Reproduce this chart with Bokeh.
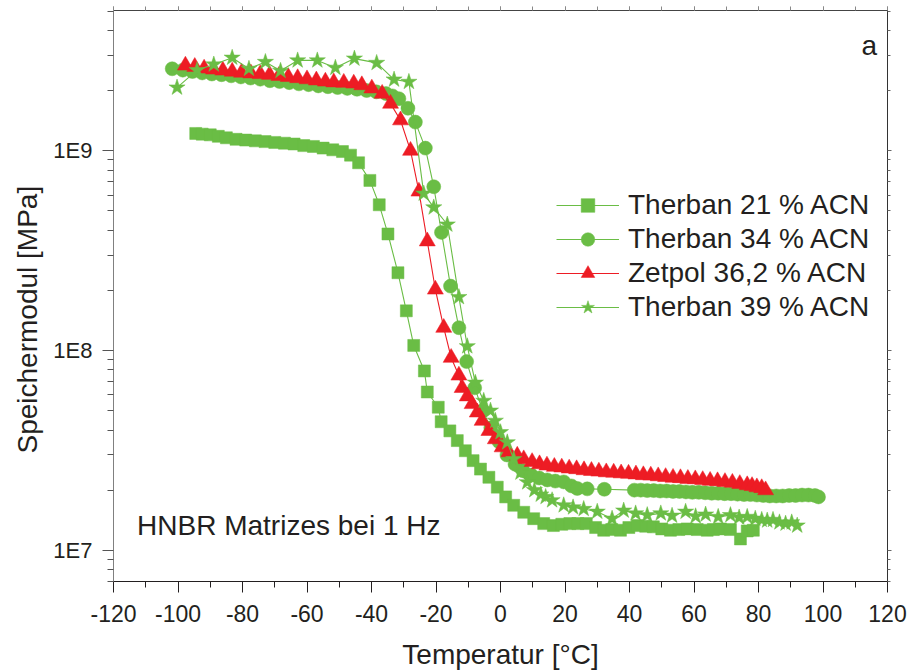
from bokeh.plotting import figure
from bokeh.models import (Range1d, FixedTicker, LinearAxis, LogAxis, CustomJSTickFormatter,
                          Label, Legend, LegendItem, Title)
from bokeh.embed import file_html
from bokeh.resources import INLINE

# ---------------- data ----------------
T21_T = [-94.5, -92.5, -90.0, -87.5, -85.0, -82.0, -79.0, -76.0, -73.0, -70.0, -67.0, -64.0, -61.0,
         -58.0, -55.0, -52.0, -49.0, -46.5, -44.0,
         -40.5, -37.6, -34.9, -31.8, -29.2, -26.9, -23.6, -22.7, -19.3, -18.4, -15.7, -13.4, -10.9,
         -8.5, -6.2, -3.6, -1.0,
         1.6, 4.1, 7.2, 10.3, 13.4, 16.4, 19.0, 21.5, 24.0, 26.6, 29.5, 32.0, 34.5, 37.2, 39.8, 42.4,
         45.0, 47.4, 50.0, 52.7, 55.3, 57.9, 61.0, 64.1, 66.0, 68.2, 71.3, 74.4, 76.5, 78.4]
T21_E = [1.22e9, 1.21e9, 1.20e9, 1.18e9, 1.16e9, 1.14e9, 1.13e9, 1.12e9, 1.11e9, 1.10e9, 1.09e9, 1.08e9,
         1.06e9, 1.05e9, 1.03e9, 1.01e9, 0.99e9, 0.95e9, 0.87e9,
         7.1e8, 5.36e8, 3.83e8, 2.45e8, 1.58e8, 1.06e8, 7.9e7, 6.2e7, 5.2e7, 4.4e7, 3.96e7, 3.54e7,
         3.15e7, 2.81e7, 2.55e7, 2.32e7, 2.07e7,
         1.85e7, 1.68e7, 1.55e7, 1.44e7, 1.36e7, 1.33e7, 1.35e7, 1.36e7, 1.36e7, 1.36e7, 1.30e7, 1.26e7,
         1.27e7, 1.26e7, 1.30e7, 1.33e7, 1.32e7, 1.31e7, 1.28e7, 1.26e7, 1.27e7, 1.28e7, 1.27e7, 1.26e7,
         1.27e7, 1.28e7, 1.27e7, 1.14e7, 1.25e7, 1.26e7]

T34_T = [-101.8, -98.5, -95.5, -92.5, -89.5, -86.5, -83.5, -80.5, -77.5, -74.5, -71.5, -68.5, -65.5,
         -62.5, -59.5, -56.5, -53.5, -50.5, -47.5, -44.5, -41.5, -38.5, -35.5, -33.5, -31.5,
         -28.7, -26.4, -23.3, -20.7, -18.3, -15.5, -12.9, -10.5, -8.0, -5.5, -3.0, -0.5, 2.0, 4.5, 7.0,
         9.5, 12.0, 14.5, 17.0, 19.6, 22.0, 23.8, 26.9, 32.2,
         41.5, 43.5, 45.5, 47.5, 49.5, 51.5, 53.5, 55.5, 57.5, 59.5, 61.5, 63.5, 65.5, 67.5, 69.5, 71.5,
         73.5, 75.5, 77.5, 79.5, 81.5, 83.5, 85.5, 87.5, 89.5, 91.5, 93.5, 95.5, 97.5, 98.6]
T34_E = [2.57e9, 2.53e9, 2.49e9, 2.45e9, 2.42e9, 2.40e9, 2.37e9, 2.34e9, 2.31e9, 2.28e9, 2.24e9, 2.22e9,
         2.19e9, 2.16e9, 2.14e9, 2.11e9, 2.09e9, 2.07e9, 2.05e9, 2.03e9, 2.00e9, 1.97e9, 1.93e9, 1.88e9,
         1.82e9,
         1.63e9, 1.39e9, 1.03e9, 6.6e8, 3.9e8, 2.1e8, 1.3e8, 8.8e7, 6.5e7, 5.0e7, 4.1e7, 3.5e7, 3.0e7,
         2.7e7, 2.5e7, 2.38e7, 2.3e7, 2.25e7, 2.22e7, 2.2e7, 2.1e7, 2.04e7, 2.03e7, 2.02e7,
         2.00e7, 2.00e7, 1.99e7, 1.99e7, 1.98e7, 1.98e7, 1.97e7, 1.97e7, 1.96e7, 1.95e7, 1.95e7, 1.94e7,
         1.93e7, 1.93e7, 1.92e7, 1.92e7, 1.91e7, 1.90e7, 1.90e7, 1.89e7, 1.88e7, 1.87e7, 1.87e7, 1.87e7,
         1.88e7, 1.88e7, 1.89e7, 1.89e7, 1.88e7, 1.85e7]

Z36_T = [-97.7, -94.8, -91.9, -89.0, -86.1, -83.2, -80.3, -77.4, -74.5, -71.6, -68.7, -65.8, -62.9,
         -60.0, -57.1, -54.3, -51.7, -48.6, -45.5, -43.0, -39.9, -36.7, -34.1,
         -31.0, -27.9, -25.3, -22.7, -20.2, -17.6, -15.3, -12.9, -11.9, -10.3, -8.8, -7.2, -5.7, -3.6,
         -1.6, 0.5, 2.6, 5.2, 7.2, 9.8,
         12.1, 14.4, 16.7, 19.0, 21.3, 23.6, 25.9, 28.2, 30.5, 32.8, 35.1, 37.4, 39.7, 42.0, 44.3, 46.6,
         48.9, 51.2, 53.5, 55.8, 58.1, 60.4, 62.7, 65.0, 67.3, 69.6, 71.9, 74.2, 76.5, 78.0, 79.5, 81.0,
         82.2]
Z36_E = [2.67e9, 2.63e9, 2.58e9, 2.55e9, 2.52e9, 2.49e9, 2.46e9, 2.44e9, 2.42e9, 2.40e9, 2.37e9, 2.34e9,
         2.31e9, 2.28e9, 2.25e9, 2.22e9, 2.20e9, 2.19e9, 2.17e9, 2.13e9, 2.05e9, 1.93e9, 1.72e9,
         1.42e9, 1.0e9, 6.25e8, 3.52e8, 2.02e8, 1.3e8, 9.2e7, 7.5e7, 6.5e7, 5.9e7, 5.4e7, 4.9e7, 4.45e7,
         3.96e7, 3.6e7, 3.28e7, 3.1e7, 2.98e7, 2.86e7, 2.77e7,
         2.70e7, 2.66e7, 2.62e7, 2.60e7, 2.57e7, 2.55e7, 2.52e7, 2.50e7, 2.48e7, 2.46e7, 2.45e7, 2.43e7,
         2.42e7, 2.40e7, 2.38e7, 2.37e7, 2.35e7, 2.33e7, 2.31e7, 2.30e7, 2.28e7, 2.27e7, 2.25e7, 2.23e7,
         2.22e7, 2.20e7, 2.18e7, 2.15e7, 2.12e7, 2.10e7, 2.07e7, 2.05e7, 2.00e7]

T39_T = [-100.3, -94.1, -88.9, -83.2, -78.0, -72.9, -68.2, -62.9, -56.8, -51.2, -45.3, -38.4, -33.0,
         -28.4, -23.8, -20.7, -16.5, -12.9, -10.3, -7.8, -5.2, -3.1, -1.6, 0.0, 2.1, 4.1, 6.2, 8.3,
         10.5, 12.5, 14.0, 16.0, 19.6, 22.5, 25.8, 30.0, 34.6, 38.2, 41.9, 45.5, 49.7, 53.2, 57.4, 60.5,
         63.6, 67.5, 71.3, 74.0, 76.5, 79.0, 81.0, 82.7, 84.5, 86.5, 88.4, 90.3, 92.0]
T39_E = [2.07e9, 2.53e9, 2.70e9, 2.92e9, 2.57e9, 2.78e9, 2.51e9, 2.83e9, 2.83e9, 2.60e9, 2.89e9, 2.75e9,
         2.27e9, 2.21e9, 6.1e8, 5.2e8, 4.27e8, 1.85e8, 1.05e8, 6.9e7, 5.6e7, 5.0e7, 4.45e7, 3.9e7, 3.47e7,
         2.86e7, 2.45e7, 2.19e7, 2.0e7, 1.9e7, 1.85e7, 1.78e7, 1.68e7, 1.64e7, 1.61e7, 1.56e7, 1.44e7,
         1.58e7, 1.53e7, 1.50e7, 1.53e7, 1.49e7, 1.56e7, 1.48e7, 1.51e7, 1.47e7, 1.50e7, 1.46e7, 1.47e7,
         1.44e7, 1.42e7, 1.41e7, 1.42e7, 1.38e7, 1.36e7, 1.38e7, 1.33e7]

SERIES_NAMES = ["Therban 21 % ACN", "Therban 34 % ACN", "Zetpol 36,2 % ACN", "Therban 39 % ACN"]
X_TICKS = list(range(-120, 121, 20))
X_MINOR = list(range(-120, 121, 10))
Y_TICKS = [1e7, 1e8, 1e9]

# ---------------- style ----------------
GREEN = "#6abd45"
RED = "#ed1c24"
TXT = "#231f20"
FONT = "Liberation Sans"

p = figure(width=907, height=672, x_range=Range1d(-120, 120), y_range=Range1d(6.98e6, 5.03e9),
           y_axis_type="log", output_backend="svg", toolbar_location=None,
           min_border_left=113, min_border_right=20, min_border_top=10, min_border_bottom=89)
p.outline_line_color = None
p.xgrid.visible = False
p.ygrid.visible = False
p.background_fill_color = "white"
p.border_fill_color = "white"

y_minor = [k * 10 ** n for n in (6, 7, 8, 9) for k in range(2, 10)]
xt = FixedTicker(ticks=X_TICKS, minor_ticks=X_MINOR)
yt = FixedTicker(ticks=Y_TICKS, minor_ticks=y_minor)

xa = p.xaxis[0]
xa.ticker = xt
xa.formatter = CustomJSTickFormatter(code="return tick.toFixed(0);")
xa.axis_label = "Temperatur [°C]"
xa.axis_label_text_font = FONT
xa.axis_label_text_font_size = "28px"
xa.axis_label_text_font_style = "normal"
xa.axis_label_text_color = TXT
xa.axis_label_standoff = 14
xa.major_label_text_font = FONT
xa.major_label_text_font_size = "23px"
xa.major_label_text_color = TXT
xa.major_label_standoff = 12
xa.major_tick_out = 11
xa.major_tick_in = 0
xa.minor_tick_out = 6
xa.minor_tick_in = 0
xa.axis_line_color = TXT
xa.major_tick_line_color = TXT
xa.minor_tick_line_color = TXT

ya = p.yaxis[0]
ya.ticker = yt
ya.formatter = CustomJSTickFormatter(code="return '1E' + Math.round(Math.log10(tick));")
ya.major_label_text_font = FONT
ya.major_label_text_font_size = "22px"
ya.major_label_text_color = TXT
ya.major_label_standoff = 10
ya.major_tick_out = 11
ya.major_tick_in = 0
ya.minor_tick_out = 6
ya.minor_tick_in = 0
ya.axis_line_color = "#808080"
ya.major_tick_line_color = "#555555"
ya.minor_tick_line_color = "#555555"

empty = CustomJSTickFormatter(code="return '';")
top = LinearAxis(ticker=xt, formatter=empty, major_tick_out=4, major_tick_in=0,
                 minor_tick_out=4, minor_tick_in=0, axis_line_color="#444444",
                 major_tick_line_color="#888888", minor_tick_line_color="#888888",
                 major_label_text_font_size="1px")
p.add_layout(top, "above")
right = LogAxis(ticker=yt, formatter=empty, major_tick_out=4, major_tick_in=0,
                minor_tick_out=3, minor_tick_in=0, axis_line_color="#333333",
                major_tick_line_color="#666666", minor_tick_line_color="#666666",
                major_label_text_font_size="1px")
p.add_layout(right, "right")

# y-axis title, placed like the reference (not centred on the frame)
p.add_layout(Title(text="Speichermodul [MPa]", align="left", offset=128, standoff=16,
                   text_font=FONT, text_font_size="28px", text_font_style="normal",
                   text_color=TXT), "left")

# ---------------- series ----------------
specs = [
    (T21_T, T21_E, GREEN, "square", 12),
    (T34_T, T34_E, GREEN, "circle", 14),
    (Z36_T, Z36_E, RED, "triangle", 16),
    (T39_T, T39_E, GREEN, "star", 17),
]
items = []
for (xs, ys, col, mk, sz), name in zip(specs, SERIES_NAMES):
    ln = p.line(xs, ys, line_color=col, line_width=1.1)
    sc = p.scatter(xs, ys, marker=mk, size=sz, fill_color=col, line_color=col, line_width=0.5)
    items.append(LegendItem(label=name, renderers=[ln, sc]))

legend = Legend(items=items, location=(443, 257), glyph_width=63, glyph_height=34,
                label_height=34, spacing=0, padding=0, margin=0, label_standoff=9,
                label_text_font=FONT, label_text_font_size="28px", label_text_color=TXT,
                border_line_color=None, background_fill_alpha=0)
p.add_layout(legend)

p.add_layout(Label(x=-112.7, y=1.333e7, text="HNBR Matrizes bei 1 Hz", text_font=FONT,
                   text_font_size="28px", text_color=TXT, text_baseline="alphabetic"))
p.add_layout(Label(x=116.8, y=3.37e9, text="a", text_font=FONT, text_font_size="28px",
                   text_color=TXT, text_align="right", text_baseline="alphabetic"))

open("out.html", "w").write(file_html(p, INLINE))
